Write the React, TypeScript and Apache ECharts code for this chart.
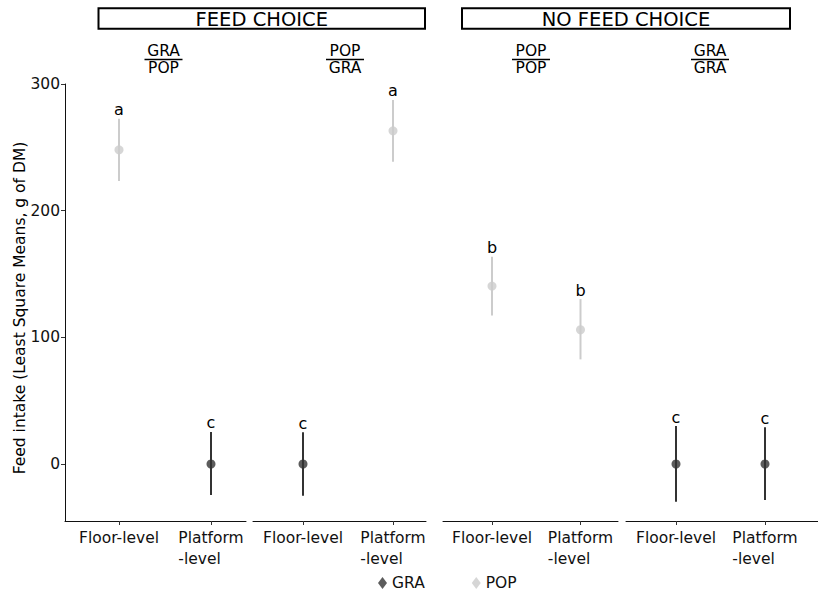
import React, { useEffect, useRef } from 'react';
import * as echarts from 'echarts';

// ---- data ----
const stripTitles = ['FEED CHOICE', 'NO FEED CHOICE'];
const panelTop = ['GRA', 'POP', 'POP', 'GRA'];
const panelBottom = ['POP', 'GRA', 'POP', 'GRA'];
const categories = ['Floor-level', 'Platform-level'];
const dietNames = ['GRA', 'POP'];
const yTicks = [0, 100, 200, 300];
const yTitle = 'Feed intake (Least Square Means, g of DM)';

const pointPanel = [0, 0, 1, 1, 2, 2, 3, 3];
const pointCategory = [1, 2, 1, 2, 1, 2, 1, 2];
const pointDiet = ['POP', 'GRA', 'GRA', 'POP', 'POP', 'POP', 'GRA', 'GRA'];
const pointMean = [248, 0, 0, 263, 140.5, 106, 0, 0];
const pointLow = [223.5, -24.5, -25, 238.7, 117.2, 82.6, -29.8, -28.4];
const pointHigh = [272.5, 25.3, 25, 287.4, 163.7, 130.2, 30, 29];
const pointLetter = ['a', 'c', 'c', 'a', 'b', 'b', 'c', 'c'];

// ---- layout / style ----
const FONT = 'DejaVu Sans';
const COLORS: Record<string, string> = { GRA: '#333333', POP: '#cccccc' };
const panelLeft = [65, 253, 443, 626];
const panelRight = [246, 426, 618, 818];
const tickPx = [[119, 211], [303, 393], [492, 580.5], [676, 765]];
const subtitleX = [163.5, 345, 531, 710];
const stripBoxes = [[98.5, 326.5], [462, 328]];
const GRID_TOP = 84;
const GRID_BOTTOM_PX = 521;
const Y_MIN = -45;
const Y_MAX = 300;

function buildOption() {
  const grids: any[] = [];
  const xAxes: any[] = [];
  const yAxes: any[] = [];
  const series: any[] = [];

  for (let p = 0; p < 4; p++) {
    const left = panelLeft[p];
    const right = panelRight[p];
    const [p1, p2] = tickPx[p];
    const unit = p2 - p1;
    const min = 1 - (p1 - left) / unit;
    const max = 2 + (right - p2) / unit;
    grids.push({ left, top: GRID_TOP, width: right - left, height: GRID_BOTTOM_PX - GRID_TOP, containLabel: false });
    xAxes.push({
      type: 'value',
      gridIndex: p,
      min,
      max,
      splitLine: { show: false },
      axisLine: { show: true, onZero: false, lineStyle: { color: '#111', width: 1 } },
      axisTick: { show: true, length: 4, customValues: [1, 2], lineStyle: { color: '#333' } },
      axisLabel: {
        customValues: [1, 2],
        margin: 7,
        color: '#111',
        fontFamily: FONT,
        fontSize: 15.5,
        lineHeight: 20.5,
        formatter: (v: number) => {
          const name = categories[Math.round(v) - 1];
          if (name === 'Platform-level') return '{l|Platform}\n{l|-level}';
          return name;
        },
        rich: { l: { align: 'left', fontFamily: FONT, fontSize: 15.5, lineHeight: 20.5, color: '#111' } },
      },
    });
    yAxes.push({
      type: 'value',
      gridIndex: p,
      min: Y_MIN,
      max: Y_MAX,
      splitLine: { show: false },
      axisLine: { show: p === 0, onZero: false, lineStyle: { color: '#111', width: 1 } },
      axisTick: { show: p === 0, length: 4, customValues: yTicks, lineStyle: { color: '#333' } },
      axisLabel: {
        show: p === 0,
        customValues: yTicks,
        margin: 5,
        color: '#111',
        fontFamily: FONT,
        fontSize: 15.5,
      },
    });

    const idx: number[] = [];
    pointPanel.forEach((pp, i) => { if (pp === p) idx.push(i); });

    series.push({
      type: 'custom',
      xAxisIndex: p,
      yAxisIndex: p,
      z: 2,
      silent: true,
      data: idx.map((i) => [pointCategory[i], pointLow[i], pointHigh[i], i]),
      renderItem: (params: any, api: any) => {
        const x = api.value(0);
        const lo = api.value(1);
        const hi = api.value(2);
        const k = api.value(3);
        const a = api.coord([x, lo]);
        const b = api.coord([x, hi]);
        const color = COLORS[pointDiet[k]];
        return {
          type: 'group',
          children: [
            { type: 'line', shape: { x1: a[0], y1: a[1], x2: b[0], y2: b[1] }, style: { stroke: color, lineWidth: 2 } },
            {
              type: 'text',
              x: b[0],
              y: b[1] - 1,
              style: {
                text: pointLetter[k],
                fill: '#000',
                fontFamily: FONT,
                fontSize: 16,
                textAlign: 'center',
                textVerticalAlign: 'bottom',
              },
            },
          ],
        };
      },
    });

    dietNames.forEach((d) => {
      const ids = idx.filter((i) => pointDiet[i] === d);
      if (!ids.length) return;
      series.push({
        type: 'scatter',
        name: d,
        xAxisIndex: p,
        yAxisIndex: p,
        z: 3,
        symbol: 'circle',
        symbolSize: 9,
        itemStyle: { color: COLORS[d] },
        data: ids.map((i) => [pointCategory[i], pointMean[i]]),
      });
    });
  }

  // graphics: strips, fraction subtitles, y title
  const graphics: any[] = [];
  stripTitles.forEach((t, s) => {
    const [x, w] = stripBoxes[s];
    graphics.push({
      type: 'rect',
      shape: { x, y: 8.3, width: w, height: 20.5 },
      style: { fill: '#fff', stroke: '#000', lineWidth: 2 },
    });
    graphics.push({
      type: 'text',
      x: x + w / 2,
      y: 19,
      style: { text: t, fill: '#000', fontFamily: FONT, fontSize: 19.5, textAlign: 'center', textVerticalAlign: 'middle' },
    });
  });
  for (let p = 0; p < 4; p++) {
    const cx = subtitleX[p];
    graphics.push({
      type: 'text', x: cx, y: 58,
      style: { text: panelTop[p], fill: '#000', fontFamily: FONT, fontSize: 15.5, lineHeight: 14, textAlign: 'center', textVerticalAlign: 'bottom' },
    });
    graphics.push({
      type: 'line',
      shape: { x1: cx - 19, y1: 59.5, x2: cx + 19, y2: 59.5 },
      style: { stroke: '#000', lineWidth: 1.5 },
    });
    graphics.push({
      type: 'text', x: cx, y: 61,
      style: { text: panelBottom[p], fill: '#000', fontFamily: FONT, fontSize: 15.5, lineHeight: 14, textAlign: 'center', textVerticalAlign: 'top' },
    });
  }
  graphics.push({
    type: 'text',
    x: 20,
    y: 308,
    rotation: Math.PI / 2,
    style: { text: yTitle, fill: '#000', fontFamily: FONT, fontSize: 15.5, textAlign: 'center', textVerticalAlign: 'middle' },
  });

  return {
    animation: false,
    backgroundColor: '#ffffff',
    textStyle: { fontFamily: FONT },
    grid: grids,
    xAxis: xAxes,
    yAxis: yAxes,
    legend: {
      data: dietNames.map((n) => ({ name: n, icon: 'diamond' })),
      left: 373,
      top: 570,
      itemWidth: 9,
      itemHeight: 12,
      itemGap: 47,
      selectedMode: false,
      textStyle: { fontFamily: FONT, fontSize: 15.5, color: '#111' },
    },
    graphic: graphics,
    series,
  };
}

export default function App() {
  const ref = useRef<HTMLDivElement>(null);
  useEffect(() => {
    if (!ref.current) return;
    const chart = echarts.init(ref.current, undefined, { renderer: 'svg' });
    chart.setOption(buildOption() as any);
    return () => chart.dispose();
  }, []);
  return (
    <div
      ref={ref}
      style={{ position: 'fixed', left: 0, top: 0, width: 818, height: 591, background: '#fff' }}
    />
  );
}
